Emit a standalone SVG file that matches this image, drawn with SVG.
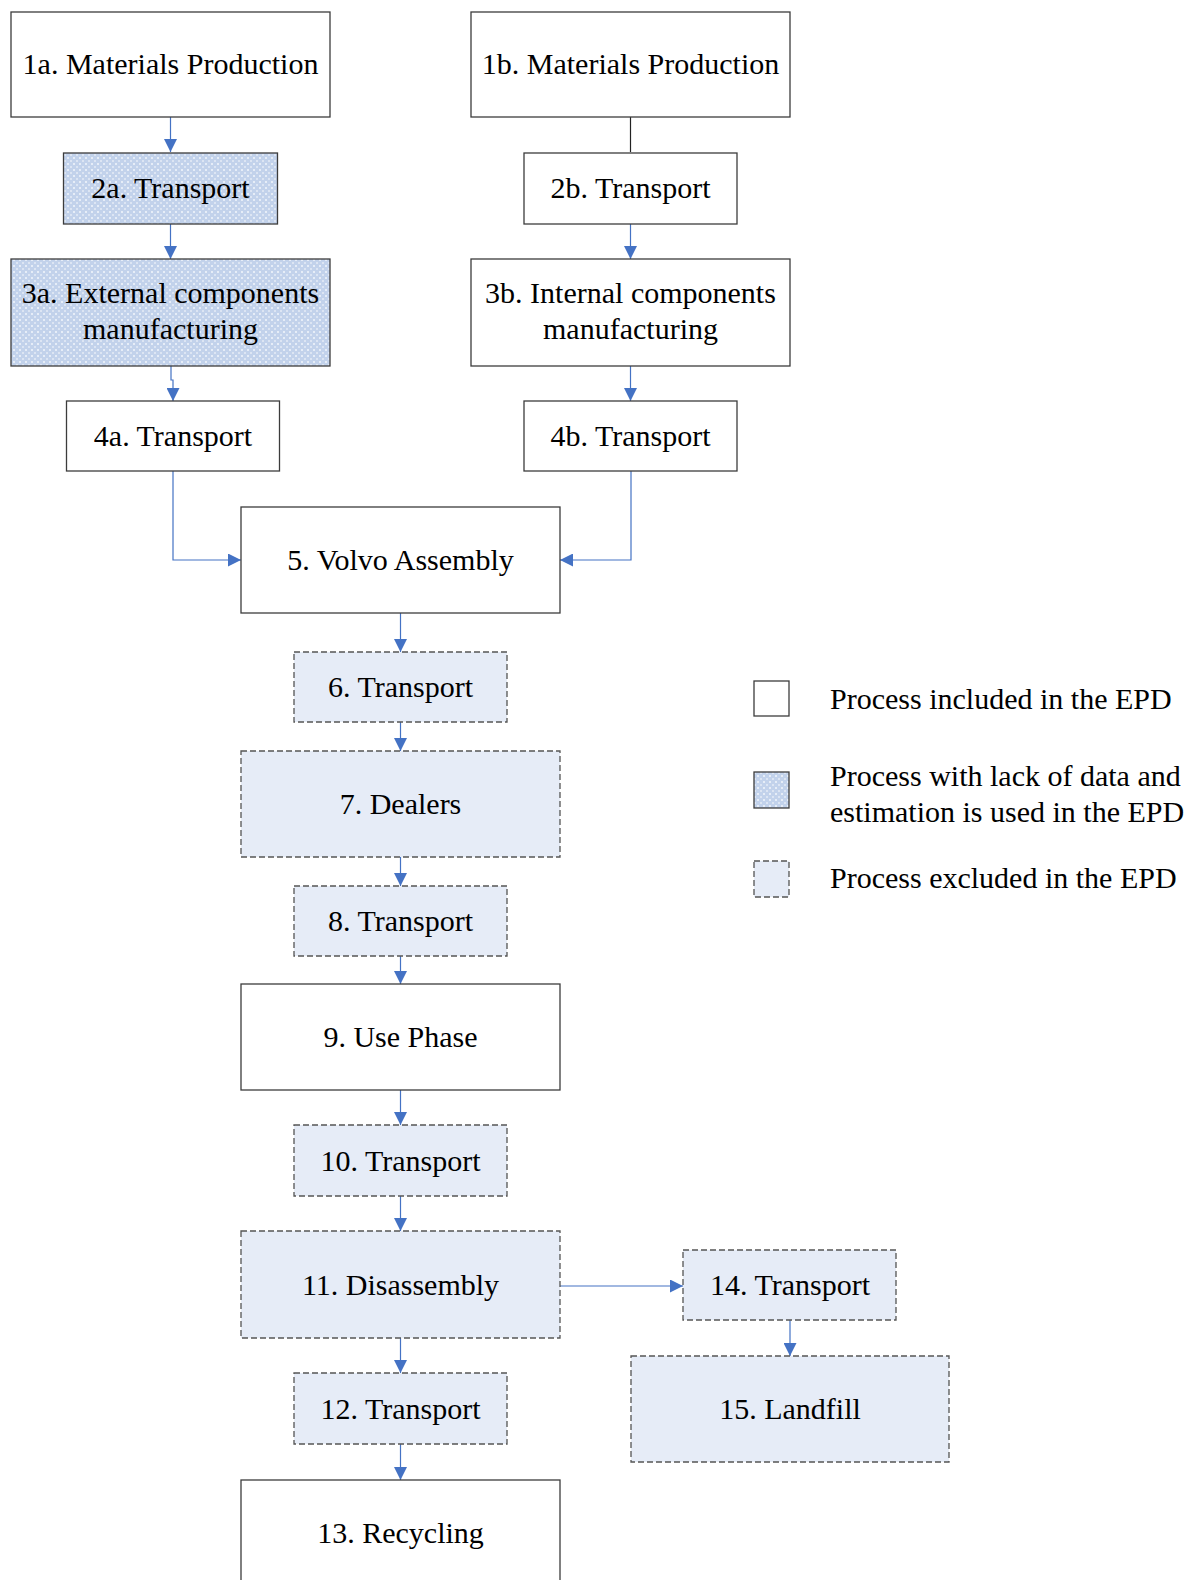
<svg xmlns="http://www.w3.org/2000/svg" width="1194" height="1580" viewBox="0 0 1194 1580">
<defs>
<pattern id="hatch" patternUnits="userSpaceOnUse" width="6" height="6">
<rect width="6" height="6" fill="#C2D2EB"/>
<rect x="1" y="1" width="2" height="2" fill="#E6EDF7"/>
<rect x="4" y="4" width="2" height="2" fill="#DCE5F3"/>
</pattern>
<marker id="arr" viewBox="0 0 13 13" refX="13" refY="6.5" markerWidth="13" markerHeight="13" markerUnits="userSpaceOnUse" orient="auto">
<path d="M0,0 L13,6.5 L0,13 Z" fill="#4472C4"/>
</marker>
</defs>
<style>
.box{fill:#fff;stroke:#3c3c3c;stroke-width:1.3}
.est{fill:url(#hatch);stroke:#3c3c3c;stroke-width:1.3}
.exc{fill:#E6ECF7;stroke:#555;stroke-width:1.3;stroke-dasharray:6,3}
.t{font-family:"Liberation Serif","Times New Roman",serif;font-size:30px;fill:#000;text-anchor:middle}
.lt{font-family:"Liberation Serif","Times New Roman",serif;font-size:30px;fill:#000}
.c{fill:none;stroke:#4472C4;stroke-width:1.2;marker-end:url(#arr)}
</style>
<g id="connectors">
<path class="c" d="M170.5,117 V152"/>
<path class="c" d="M170.5,224 V259"/>
<path class="c" d="M171,366 V380 H173 V401"/>
<path d="M630.5,117 V152" fill="none" stroke="#222" stroke-width="1.2"/>
<path class="c" d="M630.5,224 V259"/>
<path class="c" d="M630.5,366 V401"/>
<path class="c" d="M173,471 V560 H241"/>
<path class="c" d="M631,471 V560 H560"/>
<path class="c" d="M400.5,613 V652"/>
<path class="c" d="M400.5,722 V751"/>
<path class="c" d="M400.5,857 V886"/>
<path class="c" d="M400.5,956 V984"/>
<path class="c" d="M400.5,1090 V1125"/>
<path class="c" d="M400.5,1196 V1231"/>
<path class="c" d="M400.5,1338 V1373"/>
<path class="c" d="M400.5,1444 V1480"/>
<path class="c" d="M560,1286 H683"/>
<path class="c" d="M790,1320 V1356"/>
</g>
<g id="n1a"><rect class="box" x="11" y="12" width="319" height="105"/><text class="t" x="170.5" y="74">1a. Materials Production</text></g>
<g id="n1b"><rect class="box" x="471" y="12" width="319" height="105"/><text class="t" x="630.5" y="74">1b. Materials Production</text></g>
<g id="n2a"><rect class="est" x="63.5" y="153" width="214" height="71"/><text class="t" x="170.5" y="198">2a. Transport</text></g>
<g id="n2b"><rect class="box" x="524" y="153" width="213" height="71"/><text class="t" x="630.5" y="198">2b. Transport</text></g>
<g id="n3a"><rect class="est" x="11" y="259" width="319" height="107"/><text class="t" x="170.5" y="303">3a. External components</text><text class="t" x="170.5" y="339">manufacturing</text></g>
<g id="n3b"><rect class="box" x="471" y="259" width="319" height="107"/><text class="t" x="630.5" y="303">3b. Internal components</text><text class="t" x="630.5" y="339">manufacturing</text></g>
<g id="n4a"><rect class="box" x="66.5" y="401" width="213" height="70"/><text class="t" x="173" y="446">4a. Transport</text></g>
<g id="n4b"><rect class="box" x="524" y="401" width="213" height="70"/><text class="t" x="630.5" y="446">4b. Transport</text></g>
<g id="n5"><rect class="box" x="241" y="507" width="319" height="106"/><text class="t" x="400.5" y="570">5. Volvo Assembly</text></g>
<g id="n6"><rect class="exc" x="294" y="652" width="213" height="70"/><text class="t" x="400.5" y="697">6. Transport</text></g>
<g id="n7"><rect class="exc" x="241" y="751" width="319" height="106"/><text class="t" x="400.5" y="814">7. Dealers</text></g>
<g id="n8"><rect class="exc" x="294" y="886" width="213" height="70"/><text class="t" x="400.5" y="931">8. Transport</text></g>
<g id="n9"><rect class="box" x="241" y="984" width="319" height="106"/><text class="t" x="400.5" y="1047">9. Use Phase</text></g>
<g id="n10"><rect class="exc" x="294" y="1125" width="213" height="71"/><text class="t" x="400.5" y="1171">10. Transport</text></g>
<g id="n11"><rect class="exc" x="241" y="1231" width="319" height="107"/><text class="t" x="400.5" y="1295">11. Disassembly</text></g>
<g id="n12"><rect class="exc" x="294" y="1373" width="213" height="71"/><text class="t" x="400.5" y="1419">12. Transport</text></g>
<g id="n13"><rect class="box" x="241" y="1480" width="319" height="110"/><text class="t" x="400.5" y="1543">13. Recycling</text></g>
<g id="n14"><rect class="exc" x="683" y="1250" width="213" height="70"/><text class="t" x="790" y="1295">14. Transport</text></g>
<g id="n15"><rect class="exc" x="631" y="1356" width="318" height="106"/><text class="t" x="790" y="1419">15. Landfill</text></g>
<g id="legend">
<rect class="box" x="754" y="681" width="35" height="35"/>
<text class="lt" x="830" y="709">Process included in the EPD</text>
<rect class="est" x="754" y="772" width="35" height="36"/>
<text class="lt" x="830" y="786">Process with lack of data and</text>
<text class="lt" x="830" y="822">estimation is used in the EPD</text>
<rect class="exc" x="754" y="861" width="35" height="36"/>
<text class="lt" x="830" y="888">Process excluded in the EPD</text>
</g>
</svg>
